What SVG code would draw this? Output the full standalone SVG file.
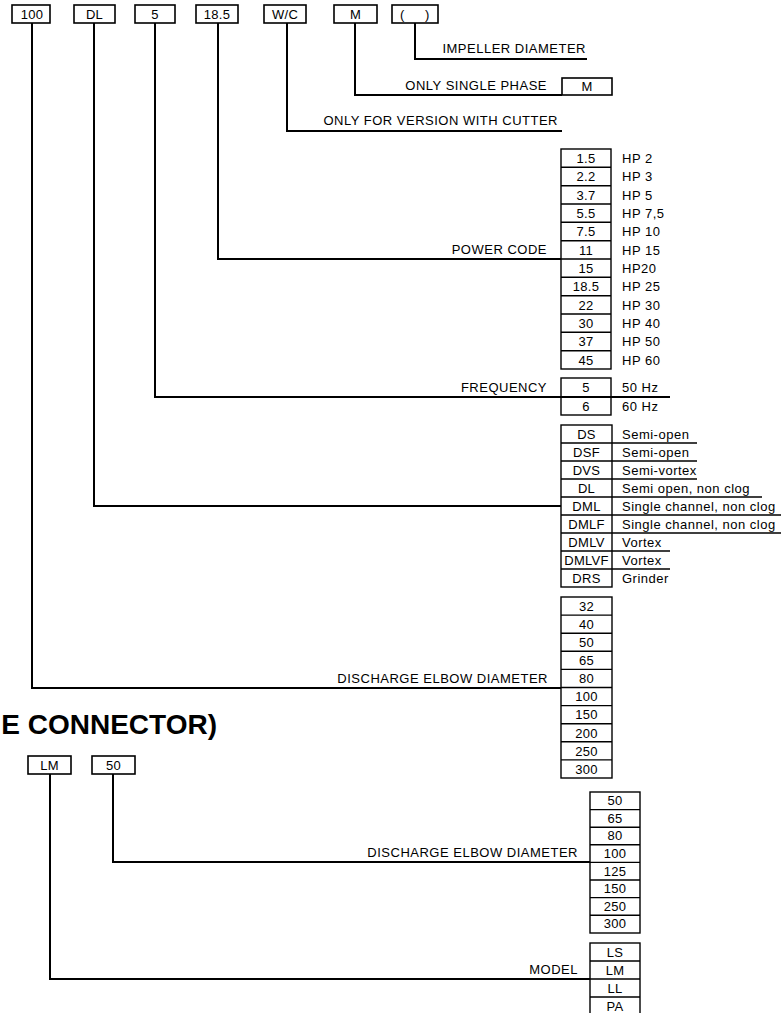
<svg xmlns="http://www.w3.org/2000/svg" width="781" height="1013" viewBox="0 0 781 1013">
<style>
text{font-family:"Liberation Sans",Arial,sans-serif;font-size:13px;fill:#000;letter-spacing:0.5px}
.c{text-anchor:middle;letter-spacing:0.3px}
.r{text-anchor:end}
.h{font-size:28px;font-weight:bold;letter-spacing:0}
.box{fill:#fff;stroke:#000;stroke-width:1.6}
.ln{fill:none;stroke:#000;stroke-width:2}
.tl{fill:none;stroke:#000;stroke-width:1.4}
</style>
<rect width="781" height="1013" fill="#fff"/>
<g id="connectors">
<polyline class="ln" points="415,23 415,59 587,59"/>
<polyline class="ln" points="355,23 355,95 562,95"/>
<polyline class="ln" points="287,23 287,131 562,131"/>
<polyline class="ln" points="218,23 218,259 561,259"/>
<polyline class="ln" points="155,23 155,397 670,397"/>
<polyline class="ln" points="94,23 94,506 561,506"/>
<polyline class="ln" points="32,23 32,688 561,688"/>
<polyline class="ln" points="113,774 113,862 590,862"/>
<polyline class="ln" points="50,774 50,979 590,979"/>
</g>
<g id="top-codes">
<g id="code-100"><rect class="box" x="12" y="5" width="38" height="18"/><text class="c" x="32" y="19">100</text></g>
<g id="code-DL"><rect class="box" x="74" y="5" width="41" height="18"/><text class="c" x="94.5" y="19">DL</text></g>
<g id="code-5"><rect class="box" x="135" y="5" width="40" height="18"/><text class="c" x="155" y="19">5</text></g>
<g id="code-18-5"><rect class="box" x="196" y="5" width="42" height="18"/><text class="c" x="217" y="19">18.5</text></g>
<g id="code-WC"><rect class="box" x="264" y="5" width="42" height="18"/><text class="c" x="285" y="19">W/C</text></g>
<g id="code-M"><rect class="box" x="334" y="5" width="43" height="18"/><text class="c" x="355.5" y="19">M</text></g>
<g id="code-imp"><rect class="box" x="392" y="5" width="46" height="18"/><text x="400" y="19">(</text><text x="425" y="19">)</text></g>
</g>
<g id="impeller"><text class="r" x="586" y="53">IMPELLER DIAMETER</text></g>
<g id="single-phase"><text class="r" x="547" y="90">ONLY SINGLE PHASE</text><rect class="box" x="562" y="78" width="50" height="17"/><text class="c" x="587" y="91">M</text></g>
<g id="cutter"><text class="r" x="558" y="125">ONLY FOR VERSION WITH CUTTER</text></g>
<g id="power-code">
<text class="r" x="547" y="254">POWER CODE</text>
<rect class="tl" x="561" y="149" width="50" height="220"/>
<path class="tl" d="M561 167.3H611M561 185.7H611M561 204H611M561 222.3H611M561 240.7H611M561 259H611M561 277.3H611M561 295.7H611M561 314H611M561 332.3H611M561 350.7H611"/>
<text class="c" x="586" y="163">1.5</text><text class="c" x="586" y="181">2.2</text><text class="c" x="586" y="200">3.7</text><text class="c" x="586" y="218">5.5</text><text class="c" x="586" y="236">7.5</text><text class="c" x="586" y="255">11</text><text class="c" x="586" y="273">15</text><text class="c" x="586" y="291">18.5</text><text class="c" x="586" y="310">22</text><text class="c" x="586" y="328">30</text><text class="c" x="586" y="346">37</text><text class="c" x="586" y="365">45</text>
<text x="622" y="163">HP 2</text><text x="622" y="181">HP 3</text><text x="622" y="200">HP 5</text><text x="622" y="218">HP 7,5</text><text x="622" y="236">HP 10</text><text x="622" y="255">HP 15</text><text x="622" y="273">HP20</text><text x="622" y="291">HP 25</text><text x="622" y="310">HP 30</text><text x="622" y="328">HP 40</text><text x="622" y="346">HP 50</text><text x="622" y="365">HP 60</text>
</g>
<g id="frequency">
<text class="r" x="547" y="392">FREQUENCY</text>
<rect class="tl" x="561" y="378" width="50" height="37"/>
<text class="c" x="586" y="392">5</text><text class="c" x="586" y="411">6</text>
<text x="622" y="392">50 Hz</text><text x="622" y="411">60 Hz</text>
</g>
<g id="model-type">
<rect class="tl" x="561" y="425" width="51" height="162"/>
<path class="tl" d="M561 443H697M561 461H697M561 479H697M561 497H762M561 515H781M561 533H781M561 551H670M561 569H670"/>
<text class="c" x="586.5" y="439">DS</text><text class="c" x="586.5" y="457">DSF</text><text class="c" x="586.5" y="475">DVS</text><text class="c" x="586.5" y="493">DL</text><text class="c" x="586.5" y="511">DML</text><text class="c" x="586.5" y="529">DMLF</text><text class="c" x="586.5" y="547">DMLV</text><text class="c" x="586.5" y="565">DMLVF</text><text class="c" x="586.5" y="583">DRS</text>
<text x="622" y="439">Semi-open</text><text x="622" y="457">Semi-open</text><text x="622" y="475">Semi-vortex</text><text x="622" y="493">Semi open, non clog</text><text x="622" y="511">Single channel, non clog</text><text x="622" y="529">Single channel, non clog</text><text x="622" y="547">Vortex</text><text x="622" y="565">Vortex</text><text x="622" y="583">Grinder</text>
</g>
<g id="discharge">
<text class="r" x="548" y="683">DISCHARGE ELBOW DIAMETER</text>
<rect class="tl" x="561" y="597" width="51" height="181"/>
<path class="tl" d="M561 615.1H612M561 633.2H612M561 651.3H612M561 669.4H612M561 687.5H612M561 705.6H612M561 723.7H612M561 741.8H612M561 759.9H612"/>
<text class="c" x="586.5" y="611">32</text><text class="c" x="586.5" y="629">40</text><text class="c" x="586.5" y="647">50</text><text class="c" x="586.5" y="665">65</text><text class="c" x="586.5" y="683">80</text><text class="c" x="586.5" y="701">100</text><text class="c" x="586.5" y="719">150</text><text class="c" x="586.5" y="738">200</text><text class="c" x="586.5" y="756">250</text><text class="c" x="586.5" y="774">300</text>
</g>
<g id="heading"><text class="h r" x="217" y="734">E CONNECTOR)</text></g>
<g id="bottom-codes">
<g id="code-LM"><rect class="box" x="28" y="756" width="43" height="18"/><text class="c" x="49.5" y="770">LM</text></g>
<g id="code-50"><rect class="box" x="92" y="756" width="43" height="18"/><text class="c" x="113.5" y="770">50</text></g>
</g>
<g id="discharge-2">
<text class="r" x="578" y="857">DISCHARGE ELBOW DIAMETER</text>
<rect class="tl" x="590" y="792" width="50" height="141"/>
<path class="tl" d="M590 809.6H640M590 827.2H640M590 844.8H640M590 862.4H640M590 880H640M590 897.6H640M590 915.2H640"/>
<text class="c" x="615" y="805">50</text><text class="c" x="615" y="823">65</text><text class="c" x="615" y="840">80</text><text class="c" x="615" y="858">100</text><text class="c" x="615" y="876">125</text><text class="c" x="615" y="893">150</text><text class="c" x="615" y="911">250</text><text class="c" x="615" y="928">300</text>
</g>
<g id="model">
<text class="r" x="578" y="974">MODEL</text>
<rect class="tl" x="590" y="943" width="50" height="75"/>
<path class="tl" d="M590 961H640M590 979H640M590 997H640"/>
<text class="c" x="615" y="957">LS</text><text class="c" x="615" y="975">LM</text><text class="c" x="615" y="993">LL</text><text class="c" x="615" y="1011">PA</text>
</g>
</svg>
